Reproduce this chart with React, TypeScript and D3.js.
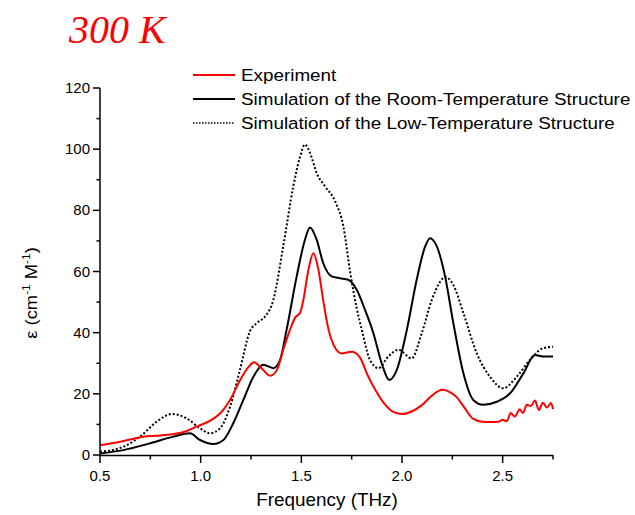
import React from "react";
import * as d3 from "d3";

const expFreq = [0.5, 0.6, 0.7, 0.75, 0.8, 0.86, 0.92, 0.97, 1.0, 1.05, 1.1, 1.15, 1.2, 1.24, 1.265, 1.3, 1.345, 1.38, 1.41, 1.444, 1.47, 1.494, 1.51, 1.535, 1.56, 1.585, 1.61, 1.635, 1.66, 1.7, 1.75, 1.79, 1.83, 1.87, 1.91, 1.96, 2.0, 2.05, 2.1, 2.15, 2.2, 2.24, 2.27, 2.31, 2.35, 2.4, 2.44, 2.48, 2.5, 2.52, 2.54, 2.56, 2.585, 2.6, 2.62, 2.64, 2.66, 2.68, 2.7, 2.72, 2.74, 2.75];
const expVal = [3.2, 4.3, 5.8, 6.2, 6.4, 6.8, 7.6, 9.0, 9.8, 11.3, 13.8, 18.5, 25, 29, 30.3, 28.5, 25.9, 28, 34.4, 41, 45, 46.5, 50.7, 60.5, 66, 60.5, 50, 41, 36, 33.2, 33.8, 32, 26, 21, 17, 14, 13.4, 14.3, 16.4, 19.5, 21.3, 20.5, 19, 15.5, 12, 10.9, 10.8, 10.9, 11.5, 11.0, 13.7, 12.6, 15, 13.7, 16.4, 16.0, 17.8, 14.7, 17.1, 15.5, 17, 15];

const roomFreq = [0.5, 0.616, 0.748, 0.864, 0.947, 0.997, 1.063, 1.113, 1.162, 1.212, 1.262, 1.311, 1.361, 1.394, 1.427, 1.477, 1.518, 1.543, 1.576, 1.609, 1.651, 1.692, 1.733, 1.775, 1.816, 1.858, 1.899, 1.937, 1.974, 2.024, 2.073, 2.115, 2.139, 2.173, 2.214, 2.255, 2.305, 2.354, 2.404, 2.471, 2.537, 2.603, 2.66, 2.7, 2.75];
const roomVal = [0.5, 1.6, 3.8, 6.0, 7.1, 4.9, 3.6, 4.9, 10.4, 18, 25.6, 29.5, 28.4, 31, 41, 58.4, 70.4, 74.4, 70.4, 62.7, 58.4, 57.8, 57.3, 54, 47.5, 39.8, 30, 24.5, 27.8, 40.9, 57.3, 68.2, 70.9, 68.2, 58.4, 43.1, 26.7, 18, 16.4, 17.4, 20.2, 26.7, 32.7, 32.2, 32.2];

const lowFreq = [0.5, 0.616, 0.699, 0.782, 0.856, 0.93, 0.997, 1.046, 1.096, 1.146, 1.195, 1.245, 1.278, 1.32, 1.361, 1.41, 1.46, 1.494, 1.518, 1.543, 1.576, 1.618, 1.668, 1.709, 1.742, 1.775, 1.8, 1.841, 1.883, 1.932, 1.982, 2.048, 2.098, 2.148, 2.19, 2.214, 2.255, 2.305, 2.371, 2.437, 2.503, 2.57, 2.636, 2.7, 2.75];
const lowVal = [1.1, 2.7, 6.0, 10.9, 13.4, 12.0, 8.7, 7.1, 8.7, 15.8, 27.8, 40.5, 43.1, 45.3, 50.7, 68.2, 87.8, 97.6, 101.5, 98.8, 92.2, 87.8, 82.9, 74.7, 60, 48, 41, 31.1, 28.4, 32.2, 34.4, 31.6, 39.8, 50.7, 56.7, 58.2, 55.6, 46.4, 33.3, 25.6, 21.8, 25.6, 31.1, 34.9, 35.4];

const xTicks = [0.5, 1.0, 1.5, 2.0, 2.5];
const xMinor = [0.75, 1.25, 1.75, 2.25, 2.75];
const yTicks = [0, 20, 40, 60, 80, 100, 120];
const yMinor = [10, 30, 50, 70, 90, 110];

const legendLabels = [
  "Experiment",
  "Simulation of the Room-Temperature Structure",
  "Simulation of the Low-Temperature Structure",
];

export default function App() {
  const W = 635, H = 515;
  const x = d3.scaleLinear().domain([0.5, 2.75]).range([100, 553]);
  const y = d3.scaleLinear().domain([0, 120]).range([455, 88]);
  const line = d3
    .line<[number, number]>()
    .x((d) => x(d[0]))
    .y((d) => y(d[1]))
    .curve(d3.curveMonotoneX);
  const zip = (a: number[], b: number[]) => a.map((v, i) => [v, b[i]] as [number, number]);
  const font = "'Liberation Sans', Arial, sans-serif";
  const series = [
    { d: zip(expFreq, expVal), color: "#ff0000", dash: undefined as string | undefined },
    { d: zip(roomFreq, roomVal), color: "#000", dash: undefined },
    { d: zip(lowFreq, lowVal), color: "#000", dash: "2 2" },
  ];
  return (
    <svg width={W} height={H} style={{ position: "absolute", left: 0, top: 0, background: "#fff" }}>
      <text x={69} y={43} fill="#ff0000" fontFamily="'Liberation Serif', serif" fontStyle="italic" fontSize={40}>
        300 K
      </text>
      {[series[2], series[1], series[0]].map((s, i) => (
        <path key={i} d={line(s.d) || ""} fill="none" stroke={s.color} strokeWidth={2} strokeDasharray={s.dash} />
      ))}
      <line x1={100} x2={x(2.75)} y1={455.5} y2={455.5} stroke="#000" strokeWidth={1.5} />
      <line x1={100} x2={100} y1={455.5} y2={y(120)} stroke="#000" strokeWidth={1.5} />
      {xTicks.map((t) => (
        <g key={"xt" + t}>
          <line x1={x(t)} x2={x(t)} y1={455} y2={463} stroke="#000" strokeWidth={1.5} />
          <text x={x(t)} y={481} textAnchor="middle" fontFamily={font} fontSize={15}>
            {t.toFixed(1)}
          </text>
        </g>
      ))}
      {xMinor.map((t) => (
        <line key={"xm" + t} x1={x(t)} x2={x(t)} y1={455} y2={459.5} stroke="#000" strokeWidth={1.5} />
      ))}
      {yTicks.map((t) => (
        <g key={"yt" + t}>
          <line x1={93} x2={100} y1={y(t)} y2={y(t)} stroke="#000" strokeWidth={1.5} />
          <text x={90} y={y(t) + 5} textAnchor="end" fontFamily={font} fontSize={15}>
            {t}
          </text>
        </g>
      ))}
      {yMinor.map((t) => (
        <line key={"ym" + t} x1={96.5} x2={100} y1={y(t)} y2={y(t)} stroke="#000" strokeWidth={1.5} />
      ))}
      <g transform="translate(327,506) scale(1.05,1)">
        <text x={0} y={0} textAnchor="middle" fontFamily={font} fontSize={18}>
          Frequency (THz)
        </text>
      </g>
      <text transform="translate(37,293) rotate(-90) scale(1.08,1)" textAnchor="middle" fontFamily={font} fontSize={17}>
        ε (cm
        <tspan fontSize={11} dy={-7}>-1</tspan>
        <tspan dy={7}> M</tspan>
        <tspan fontSize={11} dy={-7}>-1</tspan>
        <tspan dy={7}>)</tspan>
      </text>
      {legendLabels.map((l, i) => (
        <g key={l}>
          <line x1={193} x2={235} y1={75 + i * 24} y2={75 + i * 24} stroke={series[i].color} strokeWidth={i === 2 ? 1.5 : 2} strokeDasharray={i === 2 ? "1.5 1.5" : undefined} />
          <g transform={`translate(241,${81 + i * 24}) scale(1.108,1)`}>
            <text x={0} y={0} fontFamily={font} fontSize={17}>
              {l}
            </text>
          </g>
        </g>
      ))}
    </svg>
  );
}
